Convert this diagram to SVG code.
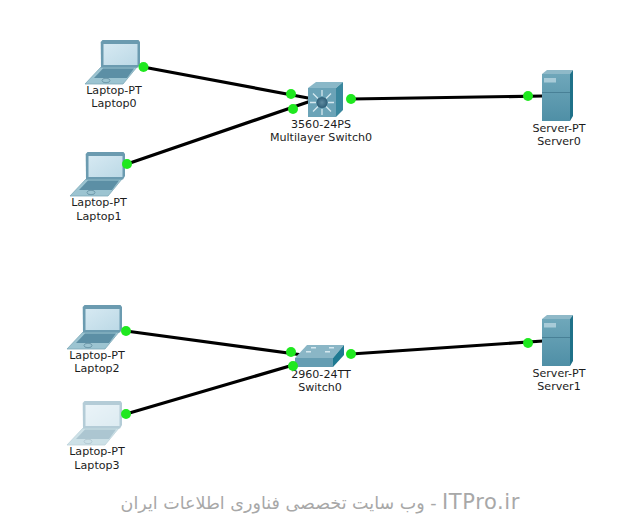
<svg xmlns="http://www.w3.org/2000/svg" width="638" height="528" viewBox="0 0 638 528">
<style>
text{font-family:"DejaVu Sans","Liberation Sans",sans-serif;font-size:11.100px;fill:#1c1c1c;text-anchor:middle}
.link{stroke:#000;stroke-width:3.200;fill:none;stroke-linecap:round}
.dot{fill:#1fe81f}
.wm{font-size:17.500px;fill:#a8a8a8;text-anchor:start;direction:rtl}
.wl{font-size:21px;letter-spacing:.6px}
</style>
<defs>
<linearGradient id="scr" x1="0" y1="0" x2="1" y2="1"><stop offset="0" stop-color="#d6e9f2"/><stop offset="1" stop-color="#bcd9e6"/></linearGradient>
<linearGradient id="srv" x1="0" y1="0" x2="0" y2="1"><stop offset="0" stop-color="#6fa7ba"/><stop offset="1" stop-color="#4f8fa6"/></linearGradient>
<radialGradient id="hub"><stop offset="0" stop-color="#5f8ba0"/><stop offset="1" stop-color="#2f5f78"/></radialGradient>
<g id="laptop">
<path d="M101 67L85 84H123L137 67Z" fill="#9cc4d1" stroke="#7da9b9" stroke-width=".8"/>
<path d="M103 68.500L94 78H127L134 68.500Z" fill="#5c8fa5"/>
<ellipse cx="106" cy="80.500" rx="4" ry="2.200" fill="none" stroke="#6f9aab"/>
<path d="M102.500 40H138.500L140 42V64L138 67.500H101L100.700 42Z" fill="#6b9bb0"/>
<rect x="103.500" y="44" width="34" height="21" fill="url(#scr)"/>
</g>
<g id="server">
<path d="M542 74L547 70H573L570 74Z" fill="#8fb9c8"/>
<path d="M570 74L573 70V116L570 121Z" fill="#1f7189"/>
<rect x="542" y="74" width="28" height="47" fill="url(#srv)"/>
<path d="M542 92.500H570" stroke="#41788f" stroke-width=".8"/>
<rect x="544" y="78" width="12" height="4.500" fill="#a8cbd8"/>
</g>
</defs>
<rect width="638" height="528" fill="#fff"/>
<g id="connectors">
<path class="link" d="M143 67L308 98"/>
<path class="link" d="M127 164L308 102"/>
<path class="link" d="M351 99L543 96"/>
<path class="link" d="M126 331L310 356"/>
<path class="link" d="M126 414L300 363"/>
<path class="link" d="M351 354L543 341"/>
</g>
<g id="laptop0"><use href="#laptop"/><text x="114" y="94">Laptop-PT</text><text x="114" y="107">Laptop0</text></g>
<g id="laptop1"><use href="#laptop" x="-15" y="112"/><text x="99" y="206">Laptop-PT</text><text x="99" y="220">Laptop1</text></g>
<g id="laptop2"><use href="#laptop" x="-18" y="265"/><text x="97" y="359">Laptop-PT</text><text x="97" y="372">Laptop2</text></g>
<g id="laptop3"><use href="#laptop" x="-18" y="361" opacity=".5"/><text x="97" y="455">Laptop-PT</text><text x="97" y="469">Laptop3</text></g>
<g id="multilayer-switch0">
<path d="M308 88L316 82H343L336 88Z" fill="#8ab8c8"/>
<path d="M336 88L343 82V110L336 117Z" fill="#3a879e"/>
<rect x="308" y="88" width="28" height="29" fill="#6ba3b7"/>
<g stroke="#d5e8ef" stroke-width="1.300"><path d="M322 90V96M322 109V115M310 102.500H316M328 102.500H334M313 93.500L318 98.500M331 93.500L326 98.500M313 111.500L318 106.500M331 111.500L326 106.500"/></g>
<circle cx="322" cy="102.500" r="5.500" fill="url(#hub)"/>
<text x="321" y="128">3560-24PS</text><text x="321" y="141">Multilayer Switch0</text>
</g>
<g id="switch0">
<path d="M295 358L307 345H344L333 358Z" fill="#8ab6c6"/>
<path d="M333 358L344 345V355L333 367Z" fill="#1f7a92"/>
<rect x="295" y="358" width="38" height="9" fill="#659db2"/>
<g fill="#d5e8ef"><rect x="306" y="351" width="5" height="1.500"/><rect x="325" y="351" width="5" height="1.500"/><rect x="311" y="347" width="5" height="1.500"/><rect x="329" y="347" width="5" height="1.500"/></g>
<text x="321" y="378">2960-24TT</text><text x="320" y="391">Switch0</text>
</g>
<g id="server0"><use href="#server"/><text x="559" y="132">Server-PT</text><text x="559" y="145">Server0</text></g>
<g id="server1"><use href="#server" y="245"/><text x="559" y="377">Server-PT</text><text x="559" y="390">Server1</text></g>
<g id="status-dots">
<circle class="dot" cx="143.500" cy="67" r="5"/><circle class="dot" cx="291" cy="94" r="5"/><circle class="dot" cx="293" cy="109" r="5"/><circle class="dot" cx="351" cy="99" r="5"/><circle class="dot" cx="528" cy="96" r="5"/><circle class="dot" cx="127" cy="164" r="5"/>
<circle class="dot" cx="126" cy="331" r="5"/><circle class="dot" cx="291" cy="352" r="5"/><circle class="dot" cx="293" cy="366" r="5"/><circle class="dot" cx="351" cy="354" r="5"/><circle class="dot" cx="528" cy="343" r="5"/><circle class="dot" cx="126" cy="414" r="5"/>
</g>
<text class="wm" x="520" y="509"><tspan class="wl">ITPro.ir</tspan> - وب سایت تخصصی فناوری اطلاعات ایران</text>
</svg>
